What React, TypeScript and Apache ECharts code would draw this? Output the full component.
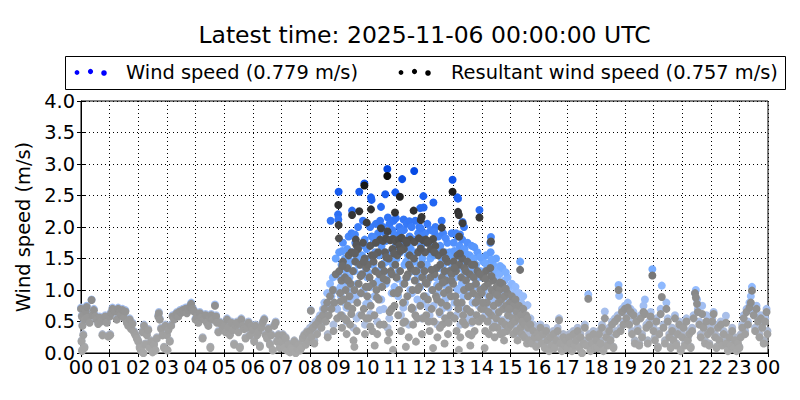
import React, { useEffect, useRef } from "react";
import * as echarts from "echarts";

const titleText = "Latest time: 2025-11-06 00:00:00 UTC";
const windLabel = "Wind speed (0.779 m/s)";
const resultantLabel = "Resultant wind speed (0.757 m/s)";
const yAxisName = "Wind speed (m/s)";

// [hour of day, m/s]
const windNight: number[][] = [
  [0.00,0.72],[0.02,0.20],[0.03,0.60],[0.04,0.05],[0.05,0.45],[0.08,0.30],[0.10,0.62],[0.12,0.10],[0.13,0.55],[0.17,0.68],[0.20,0.75],[0.22,0.58],[0.30,0.50],[0.37,0.85],[0.40,0.62],[0.45,0.70],[0.50,0.60],[0.55,0.55],[0.60,0.48],[0.65,0.58],[0.70,0.52],[0.75,0.30],[0.80,0.55],[0.85,0.60],[0.90,0.50],[0.95,0.28],
  [1.00,0.60],[1.02,0.30],[1.05,0.65],[1.10,0.72],[1.15,0.70],[1.20,0.68],[1.25,0.55],[1.30,0.72],[1.35,0.66],[1.40,0.62],[1.45,0.70],[1.50,0.58],[1.55,0.68],[1.60,0.50],[1.65,0.45],[1.70,0.55],[1.75,0.40],[1.80,0.48],[1.85,0.35],[1.90,0.30],[1.95,0.25],
  [2.00,0.20],[2.05,0.10],[2.10,0.05],[2.15,0.35],[2.18,0.00],[2.20,0.45],[2.25,0.15],[2.30,0.30],[2.35,0.38],[2.40,0.10],[2.45,0.20],[2.50,0.02],[2.55,0.15],[2.60,0.05],[2.65,0.25],[2.70,0.60],[2.72,0.65],[2.75,0.55],[2.80,0.40],[2.85,0.30],[2.90,0.10],[2.95,0.45],
  [3.00,0.30],[3.02,0.05],[3.05,0.38],[3.10,0.20],[3.15,0.45],[3.20,0.60],[3.25,0.55],[3.30,0.62],[3.35,0.65],[3.40,0.60],[3.45,0.68],[3.50,0.66],[3.55,0.70],[3.60,0.68],[3.65,0.72],[3.70,0.65],[3.75,0.70],[3.80,0.75],[3.85,0.80],[3.90,0.72],[3.95,0.68],
  [4.00,0.55],[4.05,0.60],[4.10,0.50],[4.15,0.65],[4.20,0.58],[4.25,0.25],[4.30,0.55],[4.35,0.62],[4.40,0.50],[4.45,0.45],[4.50,0.58],[4.52,0.10],[4.55,0.62],[4.60,0.55],[4.68,0.77],[4.72,0.60],[4.75,0.50],[4.80,0.35],[4.85,0.50],[4.90,0.48],[4.95,0.40],
  [5.00,0.45],[5.05,0.35],[5.10,0.55],[5.15,0.42],[5.20,0.30],[5.25,0.50],[5.30,0.38],[5.35,0.15],[5.40,0.45],[5.45,0.50],[5.50,0.35],[5.55,0.10],[5.60,0.55],[5.65,0.45],[5.70,0.40],[5.75,0.25],[5.80,0.42],[5.85,0.50],[5.90,0.30],[5.95,0.45],
  [6.00,0.38],[6.05,0.20],[6.10,0.45],[6.15,0.30],[6.20,0.35],[6.25,0.12],[6.30,0.42],[6.35,0.50],[6.40,0.55],[6.45,0.30],[6.50,0.25],[6.55,0.40],[6.60,0.15],[6.65,0.30],[6.70,0.05],[6.75,0.45],[6.80,0.50],[6.85,0.20],[6.90,0.30],[6.95,0.10],
  [7.00,0.20],[7.05,0.30],[7.10,0.10],[7.15,0.25],[7.20,0.05],[7.25,0.15],[7.30,0.02],[7.35,0.10],[7.40,0.05],[7.45,0.20],[7.50,0.00],[7.55,0.08],[7.60,0.15],[7.65,0.05],[7.70,0.10],[7.75,0.25],[7.80,0.30],[7.85,0.15],[7.90,0.35],[7.95,0.20]
];

const windDay: number[][] = [
  [8.00,0.40],[8.03,0.68],[8.05,0.30],[8.10,0.45],[8.15,0.20],[8.20,0.50],[8.25,0.35],[8.30,0.55],[8.35,0.60],[8.40,0.45],[8.45,0.70],[8.50,0.80],[8.55,0.60],[8.60,0.95],[8.62,0.30],[8.65,0.75],[8.70,1.10],[8.72,2.10],[8.75,0.90],[8.80,1.20],[8.82,0.45],[8.85,1.00],[8.90,1.50],[8.95,0.70],[8.98,2.20],[8.99,2.12],
  [9.00,2.56],[9.02,1.60],[9.05,1.20],[9.08,0.90],[9.10,1.40],[9.12,0.60],[9.15,1.75],[9.18,1.10],[9.20,0.80],[9.22,1.50],[9.25,1.30],[9.28,0.50],[9.30,1.65],[9.32,1.00],[9.35,1.85],[9.38,1.20],[9.40,0.70],[9.42,1.45],[9.45,1.90],[9.47,2.26],[9.48,1.00],[9.50,1.60],[9.52,0.40],[9.55,1.30],[9.58,1.75],[9.60,0.90],[9.62,1.50],[9.65,1.10],[9.68,2.00],[9.70,1.40],[9.72,2.56],[9.73,0.60],[9.75,1.70],[9.78,1.25],[9.80,0.95],[9.82,1.55],[9.85,2.10],[9.88,1.00],[9.90,2.69],[9.91,1.80],[9.92,0.45],[9.95,1.35],[9.98,1.65],
  [10.00,1.20],[10.02,1.70],[10.05,0.80],[10.08,1.50],[10.10,2.00],[10.12,1.05],[10.13,2.47],[10.15,2.43],[10.16,1.85],[10.18,0.60],[10.20,1.40],[10.22,1.75],[10.25,0.90],[10.28,1.60],[10.30,2.05],[10.32,1.30],[10.35,0.50],[10.38,1.90],[10.40,1.15],[10.42,1.55],[10.45,2.10],[10.48,2.32],[10.49,0.85],[10.50,1.70],[10.52,1.35],[10.55,2.00],[10.58,0.70],[10.60,1.60],[10.62,1.90],[10.63,2.52],[10.65,1.10],[10.68,1.45],[10.70,2.92],[10.71,0.40],[10.72,2.15],[10.75,1.80],[10.78,2.05],[10.80,1.25],[10.82,1.60],[10.85,0.95],[10.88,1.95],[10.90,1.40],[10.92,2.10],[10.95,1.05],[10.98,2.55],[10.99,1.70],
  [11.00,2.14],[11.02,1.50],[11.05,1.85],[11.08,0.90],[11.10,1.30],[11.12,2.00],[11.15,1.60],[11.18,0.60],[11.20,1.75],[11.22,2.76],[11.25,1.10],[11.27,2.12],[11.28,1.95],[11.30,1.40],[11.32,0.80],[11.35,1.70],[11.38,2.05],[11.40,1.20],[11.42,1.55],[11.45,0.45],[11.47,2.09],[11.48,1.85],[11.50,1.00],[11.52,1.65],[11.55,2.00],[11.58,1.30],[11.60,0.70],[11.62,1.80],[11.64,2.89],[11.65,1.45],[11.68,2.10],[11.70,1.15],[11.72,1.60],[11.75,0.85],[11.78,1.90],[11.80,1.35],[11.82,2.00],[11.85,2.30],[11.86,1.05],[11.88,1.70],[11.90,0.55],[11.92,1.50],[11.95,1.85],[11.96,2.49],[11.97,2.31],[11.98,1.20],
  [12.00,1.60],[12.02,1.90],[12.05,0.90],[12.08,1.40],[12.10,2.05],[12.12,1.15],[12.15,1.75],[12.18,0.60],[12.20,1.50],[12.22,1.95],[12.25,1.00],[12.28,1.30],[12.30,1.80],[12.31,2.39],[12.32,0.75],[12.35,1.55],[12.38,2.00],[12.40,1.20],[12.42,1.65],[12.45,0.45],[12.48,1.85],[12.50,1.35],[12.52,0.95],[12.55,1.70],[12.58,1.10],[12.60,2.10],[12.61,1.50],[12.62,0.70],[12.65,1.90],[12.68,1.25],[12.70,1.60],[12.72,0.85],[12.75,1.45],[12.78,1.05],[12.80,1.75],[12.82,0.50],[12.85,1.30],[12.88,1.60],[12.90,0.90],[12.92,1.20],[12.95,1.90],[12.96,1.55],[12.98,2.75],
  [13.00,1.40],[13.02,1.75],[13.05,0.80],[13.08,1.20],[13.10,1.90],[13.11,1.60],[13.12,0.60],[13.15,2.47],[13.16,1.85],[13.17,2.45],[13.18,1.00],[13.20,1.35],[13.22,1.70],[13.25,0.45],[13.28,1.50],[13.30,1.10],[13.32,1.80],[13.33,2.08],[13.35,0.90],[13.38,2.00],[13.39,1.30],[13.40,1.65],[13.42,0.70],[13.45,1.45],[13.48,1.00],[13.50,1.75],[13.52,1.20],[13.55,0.55],[13.58,1.55],[13.60,0.95],[13.62,1.35],[13.65,1.70],[13.68,0.80],[13.70,1.25],[13.72,1.50],[13.75,0.60],[13.78,1.10],[13.80,1.40],[13.82,0.90],[13.85,1.60],[13.88,1.20],[13.90,0.75],[13.92,2.27],[13.95,1.30],[13.98,1.00],
  [14.00,1.20],[14.02,0.80],[14.05,1.45],[14.08,0.95],[14.10,1.30],[14.12,0.60],[14.15,1.55],[14.18,1.05],[14.20,0.75],[14.22,1.35],[14.25,0.50],[14.28,1.15],[14.30,1.75],[14.31,1.60],[14.32,1.84],[14.33,0.85],[14.35,1.25],[14.38,0.65],[14.40,1.40],[14.42,1.00],[14.45,0.45],[14.48,1.20],[14.50,1.50],[14.51,0.80],[14.52,1.30],[14.55,0.60],[14.58,1.05],[14.60,0.90],[14.62,1.25],[14.65,0.50],[14.68,1.10],[14.70,0.75],[14.72,1.35],[14.75,0.95],[14.78,0.40],[14.80,1.15],[14.82,0.70],[14.85,1.00],[14.88,0.55],[14.90,1.20],[14.92,0.85],[14.95,0.60],[14.98,1.05],
  [15.00,0.90],[15.02,0.60],[15.05,1.10],[15.08,0.75],[15.10,0.45],[15.12,0.95],[15.15,0.65],[15.18,1.05],[15.20,0.50],[15.22,0.85],[15.25,0.30],[15.28,0.70],[15.30,0.95],[15.34,1.45],[15.35,0.55],[15.38,0.80],[15.40,0.40],[15.42,0.65],[15.45,0.90],[15.48,0.35],[15.50,0.60],[15.55,0.75],[15.58,0.25],[15.60,0.76],[15.62,0.50],[15.65,0.30],[15.70,0.55],[15.75,0.20],[15.80,0.45],[15.85,0.35],[15.90,0.15],[15.95,0.40]
];

const windDayExtra: number[][] = [
  [9.07,1.05],[9.13,1.62],[9.27,0.72],[9.33,1.38],[9.44,0.85],[9.57,1.88],[9.63,0.55],[9.77,1.48],[9.87,1.72],[9.96,0.78],
  [10.04,1.28],[10.11,0.62],[10.24,1.82],[10.34,1.12],[10.44,0.68],[10.57,1.42],[10.66,1.78],[10.77,0.55],[10.86,1.52],[10.94,1.88],
  [11.06,1.18],[11.16,1.92],[11.26,0.72],[11.36,1.45],[11.46,1.68],[11.56,0.95],[11.66,1.58],[11.76,1.25],[11.87,1.98],[11.94,0.78],
  [12.04,1.38],[12.14,0.72],[12.24,1.58],[12.34,1.92],[12.44,1.08],[12.54,0.62],[12.64,1.38],[12.74,1.82],[12.84,0.72],[12.94,1.42],
  [13.04,1.62],[13.14,1.02],[13.24,1.88],[13.34,0.72],[13.44,1.58],[13.54,1.32],[13.64,0.48],[13.74,1.68],[13.84,1.05],[13.94,1.52],
  [14.04,1.02],[14.14,1.42],[14.24,0.88],[14.34,1.48],[14.44,0.62],[14.54,1.15],[14.64,1.38],[14.74,0.52],[14.84,1.28],[14.94,0.92]
];

const windEvening: number[][] = [
  [16.00,0.30],[16.05,0.45],[16.10,0.20],[16.15,0.35],[16.20,0.10],[16.25,0.40],[16.30,0.25],[16.35,0.05],[16.40,0.30],[16.45,0.15],[16.50,0.35],[16.55,0.10],[16.60,0.25],[16.65,0.40],[16.70,0.55],[16.75,0.20],[16.80,0.05],[16.85,0.30],[16.90,0.15],[16.95,0.25],
  [17.00,0.10],[17.05,0.30],[17.10,0.20],[17.15,0.05],[17.20,0.35],[17.25,0.15],[17.30,0.25],[17.35,0.40],[17.40,0.10],[17.45,0.30],[17.50,0.00],[17.55,0.20],[17.60,0.45],[17.65,0.15],[17.72,0.93],[17.75,0.30],[17.80,0.05],[17.85,0.20],[17.90,0.35],[17.95,0.10],
  [18.00,0.25],[18.05,0.10],[18.10,0.35],[18.15,0.20],[18.20,0.45],[18.25,0.05],[18.30,0.66],[18.35,0.30],[18.40,0.15],[18.45,0.40],[18.50,0.25],[18.55,0.50],[18.60,0.10],[18.65,0.55],[18.70,0.35],[18.75,0.60],[18.78,1.08],[18.80,0.91],[18.85,0.40],[18.90,0.70],[18.95,0.50],
  [19.00,0.75],[19.05,0.60],[19.10,0.80],[19.15,0.50],[19.20,0.70],[19.25,0.35],[19.30,0.65],[19.35,0.20],[19.40,0.55],[19.45,0.40],[19.50,0.15],[19.55,0.60],[19.60,0.30],[19.65,0.75],[19.70,0.85],[19.75,0.45],[19.80,0.20],[19.85,0.50],[19.90,0.65],[19.96,1.33],
  [20.00,0.40],[20.05,0.25],[20.10,0.55],[20.15,0.10],[20.20,0.35],[20.25,0.70],[20.29,1.07],[20.35,0.45],[20.40,0.20],[20.45,0.80],[20.50,0.55],[20.55,0.30],[20.60,0.10],[20.65,0.40],[20.70,0.25],[20.75,0.60],[20.80,0.15],[20.85,0.35],[20.90,0.50],[20.95,0.05],
  [21.00,0.30],[21.05,0.45],[21.10,0.15],[21.15,0.55],[21.20,0.25],[21.25,0.35],[21.30,0.10],[21.35,0.40],[21.40,0.60],[21.45,0.95],[21.48,1.00],[21.52,0.85],[21.55,0.70],[21.60,0.50],[21.65,0.30],[21.70,0.75],[21.75,0.45],[21.80,0.20],[21.85,0.60],[21.90,0.35],[21.95,0.15],
  [22.00,0.40],[22.05,0.55],[22.10,0.65],[22.15,0.30],[22.20,0.10],[22.25,0.45],[22.30,0.25],[22.35,0.50],[22.40,0.15],[22.45,0.35],[22.53,0.59],[22.55,0.20],[22.60,0.05],[22.65,0.30],[22.70,0.15],[22.75,0.40],[22.80,0.10],[22.85,0.25],[22.90,0.05],[22.95,0.20],
  [23.00,0.10],[23.05,0.30],[23.10,0.45],[23.15,0.60],[23.20,0.35],[23.25,0.70],[23.30,0.50],[23.35,0.80],[23.40,0.90],[23.44,1.05],[23.50,0.65],[23.55,0.40],[23.60,0.75],[23.65,0.55],[23.70,0.30],[23.75,0.60],[23.80,0.45],[23.85,0.20],[23.90,0.55],[23.95,0.70],[23.98,0.35]
];

const resultantNight: number[][] = [
  [0.00,0.70],[0.02,0.18],[0.03,0.58],[0.04,0.03],[0.05,0.43],[0.08,0.28],[0.10,0.60],[0.12,0.08],[0.13,0.53],[0.17,0.66],[0.20,0.73],[0.22,0.56],[0.30,0.48],[0.37,0.84],[0.40,0.60],[0.45,0.68],[0.50,0.58],[0.55,0.53],[0.60,0.46],[0.65,0.56],[0.70,0.50],[0.75,0.28],[0.80,0.53],[0.85,0.58],[0.90,0.48],[0.95,0.26],
  [1.00,0.58],[1.02,0.28],[1.05,0.63],[1.10,0.70],[1.15,0.68],[1.20,0.66],[1.25,0.53],[1.30,0.70],[1.35,0.64],[1.40,0.60],[1.45,0.68],[1.50,0.56],[1.55,0.66],[1.60,0.48],[1.65,0.43],[1.70,0.53],[1.75,0.38],[1.80,0.46],[1.85,0.33],[1.90,0.28],[1.95,0.23],
  [2.00,0.18],[2.05,0.08],[2.10,0.03],[2.15,0.33],[2.18,0.00],[2.20,0.43],[2.25,0.13],[2.30,0.28],[2.35,0.36],[2.40,0.08],[2.45,0.18],[2.50,0.01],[2.55,0.13],[2.60,0.04],[2.65,0.23],[2.70,0.58],[2.72,0.63],[2.75,0.53],[2.80,0.38],[2.85,0.28],[2.90,0.08],[2.95,0.43],
  [3.00,0.28],[3.02,0.04],[3.05,0.36],[3.10,0.18],[3.15,0.43],[3.20,0.58],[3.25,0.53],[3.30,0.60],[3.35,0.63],[3.40,0.58],[3.45,0.66],[3.50,0.64],[3.55,0.68],[3.60,0.66],[3.65,0.70],[3.70,0.63],[3.75,0.68],[3.80,0.73],[3.85,0.78],[3.90,0.70],[3.95,0.66],
  [4.00,0.53],[4.05,0.58],[4.10,0.48],[4.15,0.63],[4.20,0.56],[4.25,0.23],[4.30,0.53],[4.35,0.60],[4.40,0.48],[4.45,0.43],[4.50,0.56],[4.52,0.08],[4.55,0.60],[4.60,0.53],[4.68,0.75],[4.72,0.58],[4.75,0.48],[4.80,0.33],[4.85,0.48],[4.90,0.46],[4.95,0.38],
  [5.00,0.43],[5.05,0.33],[5.10,0.53],[5.15,0.40],[5.20,0.28],[5.25,0.48],[5.30,0.36],[5.35,0.13],[5.40,0.43],[5.45,0.48],[5.50,0.33],[5.55,0.08],[5.60,0.53],[5.65,0.43],[5.70,0.38],[5.75,0.23],[5.80,0.40],[5.85,0.48],[5.90,0.28],[5.95,0.43],
  [6.00,0.36],[6.05,0.18],[6.10,0.43],[6.15,0.28],[6.20,0.33],[6.25,0.10],[6.30,0.40],[6.35,0.48],[6.40,0.53],[6.45,0.28],[6.50,0.23],[6.55,0.38],[6.60,0.13],[6.65,0.28],[6.70,0.04],[6.75,0.43],[6.80,0.48],[6.85,0.18],[6.90,0.28],[6.95,0.08],
  [7.00,0.18],[7.05,0.28],[7.10,0.08],[7.15,0.23],[7.20,0.04],[7.25,0.13],[7.30,0.01],[7.35,0.08],[7.40,0.04],[7.45,0.18],[7.50,0.00],[7.55,0.06],[7.60,0.13],[7.65,0.04],[7.70,0.08],[7.75,0.23],[7.80,0.28],[7.85,0.13],[7.90,0.33],[7.95,0.18]
];

const resultantDay: number[][] = [
  [8.00,0.35],[8.03,0.67],[8.05,0.25],[8.10,0.40],[8.15,0.15],[8.20,0.45],[8.25,0.30],[8.30,0.50],[8.35,0.55],[8.40,0.40],[8.45,0.60],[8.50,0.70],[8.55,0.50],[8.60,0.80],[8.62,0.25],[8.65,0.60],[8.70,0.90],[8.75,0.70],[8.80,1.00],[8.82,0.35],[8.85,0.80],[8.90,1.25],[8.95,0.55],
  [8.99,2.35],[9.00,2.03],[9.01,1.82],[9.47,2.19],[9.60,1.80],[9.62,1.71],[9.72,2.25],[9.90,2.66],[9.98,2.07],
  [9.02,1.30],[9.05,0.95],[9.08,0.60],[9.10,1.15],[9.12,0.40],[9.15,1.45],[9.18,0.85],[9.20,0.55],[9.22,1.20],[9.25,1.00],[9.28,0.30],[9.30,1.35],[9.32,0.75],[9.35,1.55],[9.38,0.90],[9.40,0.45],[9.42,1.10],[9.45,1.60],[9.48,0.70],[9.50,1.30],[9.52,0.20],[9.55,1.00],[9.58,1.45],[9.65,0.80],[9.68,1.65],[9.70,1.10],[9.75,1.40],[9.78,0.95],[9.80,0.60],[9.82,1.25],[9.85,1.75],[9.88,0.70],[9.91,1.50],[9.92,0.30],[9.95,1.05],[9.97,1.35],
  [10.13,2.28],[10.48,1.98],[10.71,1.93],[10.70,2.81],[10.97,2.23],[10.45,1.80],[10.55,1.78],[10.65,1.82],[10.80,1.79],[10.90,1.81],
  [10.00,0.90],[10.02,1.40],[10.05,0.55],[10.08,1.20],[10.10,1.70],[10.12,0.75],[10.15,1.55],[10.18,0.35],[10.20,1.10],[10.22,1.45],[10.25,0.60],[10.28,1.30],[10.30,1.75],[10.32,1.00],[10.35,0.30],[10.38,1.60],[10.40,0.85],[10.42,1.25],[10.50,1.40],[10.52,1.05],[10.58,0.45],[10.60,1.30],[10.62,1.60],[10.68,1.15],[10.72,0.20],[10.75,1.50],[10.78,0.65],[10.82,1.30],[10.85,0.70],[10.88,1.65],[10.92,0.95],[10.95,0.75],[10.98,1.40],
  [11.00,1.77],[11.10,1.80],[11.14,2.48],[11.20,1.83],[11.35,1.78],[11.50,1.80],[11.62,2.26],[11.65,1.76],[11.80,1.82],[11.87,2.11],[11.90,2.16],[11.95,1.79],
  [11.02,1.20],[11.05,1.55],[11.08,0.60],[11.11,1.00],[11.12,1.70],[11.15,1.30],[11.18,0.35],[11.25,0.80],[11.28,1.65],[11.30,1.10],[11.32,0.50],[11.38,1.75],[11.40,0.90],[11.42,1.25],[11.45,0.25],[11.48,1.55],[11.52,1.35],[11.55,0.70],[11.58,1.00],[11.60,0.45],[11.63,1.50],[11.66,1.15],[11.68,0.60],[11.72,1.30],[11.75,0.55],[11.78,1.60],[11.81,1.05],[11.85,0.75],[11.88,1.40],[11.91,0.30],[11.92,1.20],[11.98,0.90],
  [12.05,1.80],[12.15,1.77],[12.30,1.81],[12.60,1.99],[12.98,2.56],
  [12.00,1.30],[12.02,1.60],[12.06,0.60],[12.08,1.10],[12.10,1.75],[12.12,0.85],[12.18,0.35],[12.20,1.20],[12.22,1.65],[12.25,0.70],[12.28,1.00],[12.32,0.50],[12.35,1.25],[12.38,1.70],[12.40,0.90],[12.42,1.35],[12.45,0.25],[12.48,1.55],[12.50,1.05],[12.52,0.65],[12.55,1.40],[12.58,0.80],[12.61,1.20],[12.62,0.45],[12.65,1.60],[12.68,0.95],[12.70,1.30],[12.72,0.55],[12.75,1.15],[12.78,0.75],[12.80,1.45],[12.82,0.30],[12.85,1.00],[12.88,1.30],[12.90,0.60],[12.92,0.90],[12.95,1.25],
  [13.17,2.24],[13.20,2.19],[13.33,2.06],[13.21,1.85],[13.92,2.15],
  [13.00,1.10],[13.02,1.45],[13.05,0.55],[13.08,0.90],[13.10,1.30],[13.12,0.35],[13.15,1.55],[13.18,0.70],[13.22,1.40],[13.25,0.25],[13.28,1.20],[13.30,0.80],[13.32,1.50],[13.35,0.60],[13.38,1.00],[13.40,1.35],[13.42,0.45],[13.45,1.15],[13.48,0.70],[13.50,1.45],[13.52,0.90],[13.55,0.30],[13.58,1.25],[13.60,0.65],[13.62,1.05],[13.65,1.40],[13.68,0.50],[13.70,0.95],[13.72,1.20],[13.75,0.35],[13.78,0.80],[13.80,1.10],[13.82,0.60],[13.85,1.30],[13.88,0.90],[13.90,0.50],[13.95,1.00],[13.98,0.70],
  [14.32,1.77],
  [14.00,0.95],[14.02,0.55],[14.05,1.20],[14.08,0.70],[14.10,1.05],[14.12,0.35],[14.15,1.30],[14.18,0.80],[14.20,0.50],[14.22,1.10],[14.25,0.30],[14.28,0.90],[14.30,1.35],[14.33,0.60],[14.35,1.00],[14.38,0.40],[14.40,1.15],[14.42,0.75],[14.45,0.25],[14.48,0.95],[14.50,0.55],[14.52,1.05],[14.55,0.40],[14.58,0.80],[14.60,0.65],[14.62,1.00],[14.65,0.30],[14.68,0.85],[14.70,0.50],[14.72,1.10],[14.75,0.70],[14.78,0.20],[14.80,0.90],[14.82,0.45],[14.85,0.75],[14.88,0.35],[14.90,0.95],[14.92,0.60],[14.95,0.40],[14.98,0.80],
  [15.34,1.32],
  [15.00,0.70],[15.02,0.45],[15.05,0.90],[15.08,0.55],[15.10,0.30],[15.12,0.75],[15.15,0.50],[15.18,0.85],[15.20,0.35],[15.22,0.65],[15.25,0.20],[15.28,0.55],[15.30,0.75],[15.35,0.40],[15.38,0.60],[15.40,0.30],[15.42,0.50],[15.45,0.70],[15.48,0.25],[15.50,0.45],[15.55,0.60],[15.58,0.15],[15.60,0.55],[15.62,0.40],[15.65,0.20],[15.70,0.45],[15.75,0.15],[15.80,0.35],[15.85,0.25],[15.90,0.10],[15.95,0.30]
];

const resultantDayExtra: number[][] = [
  [9.07,0.82],[9.13,1.38],[9.27,0.52],[9.33,1.15],[9.44,0.62],[9.57,1.58],[9.63,0.35],[9.77,1.22],[9.87,1.45],[9.96,0.55],
  [10.04,1.05],[10.11,0.42],[10.24,1.55],[10.34,0.88],[10.44,0.45],[10.57,1.18],[10.66,1.52],[10.77,0.32],[10.86,1.25],[10.94,1.58],
  [11.06,0.95],[11.16,1.62],[11.26,0.48],[11.36,1.20],[11.46,1.40],[11.56,0.72],[11.66,1.30],[11.76,1.00],[11.87,1.66],[11.94,0.55],
  [12.04,1.12],[12.14,0.50],[12.24,1.32],[12.34,1.60],[12.44,0.85],[12.54,0.40],[12.64,1.12],[12.74,1.50],[12.84,0.48],[12.94,1.15],
  [13.04,1.35],[13.14,0.80],[13.24,1.58],[13.34,0.50],[13.44,1.30],[13.54,1.05],[13.64,0.28],[13.74,1.40],[13.84,0.82],[13.94,1.25],
  [14.04,0.80],[14.14,1.18],[14.24,0.65],[14.34,1.22],[14.44,0.42],[14.54,0.92],[14.64,1.12],[14.74,0.32],[14.84,1.02],[14.94,0.70],
  [9.55,0.10],[10.26,0.12],[10.90,0.05],[11.35,0.10],[11.70,0.18],[12.30,0.08],[12.70,0.15],[13.20,0.05],[13.60,0.12],[14.10,0.08]
];

const resultantEvening: number[][] = [
  [16.00,0.25],[16.05,0.40],[16.10,0.15],[16.15,0.30],[16.20,0.08],[16.25,0.35],[16.30,0.20],[16.35,0.03],[16.40,0.25],[16.45,0.12],[16.50,0.30],[16.55,0.08],[16.60,0.20],[16.65,0.35],[16.70,0.52],[16.75,0.15],[16.80,0.03],[16.85,0.25],[16.90,0.12],[16.95,0.20],
  [17.00,0.08],[17.05,0.25],[17.10,0.15],[17.15,0.03],[17.20,0.30],[17.25,0.12],[17.30,0.20],[17.35,0.35],[17.40,0.08],[17.45,0.25],[17.50,0.00],[17.55,0.15],[17.60,0.40],[17.65,0.12],[17.72,0.86],[17.75,0.25],[17.80,0.03],[17.85,0.15],[17.90,0.30],[17.95,0.08],
  [18.00,0.20],[18.05,0.08],[18.10,0.30],[18.15,0.15],[18.20,0.40],[18.25,0.03],[18.30,0.55],[18.35,0.25],[18.40,0.12],[18.45,0.35],[18.50,0.20],[18.55,0.45],[18.60,0.08],[18.65,0.50],[18.70,0.30],[18.75,0.55],[18.78,1.00],[18.85,0.35],[18.90,0.65],[18.95,0.45],
  [19.00,0.70],[19.05,0.55],[19.10,0.72],[19.15,0.45],[19.20,0.65],[19.25,0.30],[19.30,0.60],[19.35,0.15],[19.40,0.50],[19.45,0.35],[19.50,0.12],[19.55,0.55],[19.60,0.25],[19.65,0.65],[19.70,0.62],[19.75,0.40],[19.80,0.15],[19.85,0.45],[19.90,0.58],[19.96,1.23],
  [20.00,0.35],[20.05,0.20],[20.10,0.50],[20.15,0.08],[20.20,0.30],[20.25,0.62],[20.29,0.89],[20.35,0.40],[20.40,0.15],[20.45,0.70],[20.50,0.50],[20.55,0.25],[20.60,0.08],[20.65,0.35],[20.70,0.20],[20.75,0.55],[20.80,0.12],[20.85,0.30],[20.90,0.45],[20.95,0.03],
  [21.00,0.25],[21.05,0.40],[21.10,0.12],[21.15,0.50],[21.20,0.20],[21.25,0.30],[21.30,0.08],[21.35,0.35],[21.40,0.55],[21.45,0.95],[21.48,0.88],[21.52,0.78],[21.55,0.65],[21.60,0.45],[21.65,0.25],[21.70,0.62],[21.75,0.40],[21.80,0.15],[21.85,0.50],[21.90,0.30],[21.95,0.12],
  [22.00,0.35],[22.05,0.50],[22.10,0.62],[22.15,0.25],[22.20,0.08],[22.25,0.40],[22.30,0.20],[22.35,0.45],[22.40,0.12],[22.45,0.30],[22.53,0.48],[22.55,0.15],[22.60,0.03],[22.65,0.25],[22.70,0.12],[22.75,0.35],[22.80,0.08],[22.85,0.20],[22.90,0.03],[22.95,0.15],
  [23.00,0.08],[23.05,0.25],[23.10,0.40],[23.15,0.55],[23.20,0.30],[23.25,0.65],[23.30,0.45],[23.35,0.72],[23.40,0.80],[23.44,0.99],[23.50,0.60],[23.55,0.35],[23.60,0.70],[23.65,0.50],[23.70,0.25],[23.75,0.55],[23.80,0.40],[23.85,0.15],[23.90,0.50],[23.95,0.65],[23.98,0.30]
];

const windColors = ["#a8a8a8", "#aec0e4", "#94bcff", "#68a4ff", "#3a7cf8", "#1a5ef0", "#0044e0"];
const resultantColors = ["#a8a8a8", "#9a9a9a", "#868686", "#666666", "#424242", "#222222", "#000000"];

const FONT = "DejaVu Sans";
const FS = 19.4;

export default function App() {
  const ref = useRef<HTMLDivElement>(null);
  useEffect(() => {
    if (!ref.current) return;
    const chart = echarts.init(ref.current, null, { renderer: "svg" });
    const gridL = 81, gridR = 768, gridT = 101, gridB = 353;
    const midX = (gridL + gridR) / 2;
    const legY = 72;
    chart.setOption({
      animation: false,
      backgroundColor: "#ffffff",
      textStyle: { fontFamily: FONT },
      grid: {
        left: gridL, right: 800 - gridR, top: gridT, bottom: 400 - gridB,
        show: true, borderColor: "#000", borderWidth: 1, backgroundColor: "transparent"
      },
      visualMap: [
        { type: "continuous", show: false, seriesIndex: 0, dimension: 1, min: 0, max: 3, inRange: { color: windColors } },
        { type: "continuous", show: false, seriesIndex: 1, dimension: 1, min: 0, max: 3, inRange: { color: resultantColors } }
      ],
      xAxis: [
        {
          type: "value", min: 0, max: 24, interval: 1, position: "bottom",
          axisLine: { show: true, lineStyle: { color: "#000", width: 1 } },
          axisTick: { show: true, inside: true, length: 4, lineStyle: { color: "#000" } },
          axisLabel: { color: "#000", fontSize: FS, fontFamily: FONT, margin: 5,
            formatter: (v: number) => String(Math.round(v) % 24).padStart(2, "0") },
          splitLine: { show: true, lineStyle: { color: "#000", type: [1, 3], width: 1 } }
        },
        {
          type: "value", min: 0, max: 24, interval: 1, position: "top",
          axisLine: { show: false },
          axisTick: { show: true, inside: true, length: 4, lineStyle: { color: "#000" } },
          axisLabel: { show: false }, splitLine: { show: false }
        }
      ],
      yAxis: [
        {
          type: "value", min: 0, max: 4, interval: 0.5, position: "left",
          name: yAxisName, nameLocation: "middle", nameGap: 42, nameRotate: 90,
          nameTextStyle: { color: "#000", fontSize: FS, fontFamily: FONT },
          axisLine: { show: true, lineStyle: { color: "#000", width: 1 } },
          axisTick: { show: true, inside: true, length: 4, lineStyle: { color: "#000" } },
          axisLabel: { color: "#000", fontSize: FS, fontFamily: FONT, margin: 6,
            formatter: (v: number) => v.toFixed(1) },
          splitLine: { show: true, lineStyle: { color: "#000", type: [1, 3], width: 1 } }
        },
        {
          type: "value", min: 0, max: 4, interval: 0.5, position: "right",
          axisLine: { show: false },
          axisTick: { show: true, inside: true, length: 4, lineStyle: { color: "#000" } },
          axisLabel: { show: false }, splitLine: { show: false }
        }
      ],
      series: [
        {
          name: windLabel, type: "scatter", xAxisIndex: 0, yAxisIndex: 0,
          symbol: "circle", symbolSize: 8, clip: true,
          itemStyle: { color: "#0000ff", opacity: 1 },
          data: [...windNight, ...windDay, ...windDayExtra, ...windEvening]
        },
        {
          name: resultantLabel, type: "scatter", xAxisIndex: 0, yAxisIndex: 0,
          symbol: "circle", symbolSize: 8, clip: true,
          itemStyle: { color: "#000000", opacity: 1 },
          data: [...resultantNight, ...resultantDay, ...resultantDayExtra, ...resultantEvening]
        }
      ],
      graphic: [
        {
          type: "text", x: midX, y: 35,
          style: { text: titleText, fontSize: 23.5, fontFamily: FONT, fill: "#000", textAlign: "center", textVerticalAlign: "middle" }
        },
        {
          type: "rect", shape: { x: 65.5, y: 56.5, width: 720, height: 33 },
          style: { fill: "#fff", stroke: "#000", lineWidth: 1 }
        },
        { type: "circle", shape: { cx: 77, cy: legY + 0.5, r: 2.4 }, style: { fill: "#0000ff" } },
        { type: "circle", shape: { cx: 90.5, cy: legY - 0.5, r: 2.6 }, style: { fill: "#0000ff" } },
        { type: "circle", shape: { cx: 104, cy: legY + 1, r: 2.8 }, style: { fill: "#0000ff" } },
        {
          type: "text", x: 126, y: legY,
          style: { text: windLabel, fontSize: FS, fontFamily: FONT, fill: "#000", textAlign: "left", textVerticalAlign: "middle" }
        },
        { type: "circle", shape: { cx: 401, cy: legY + 0.5, r: 2.4 }, style: { fill: "#000" } },
        { type: "circle", shape: { cx: 414.5, cy: legY - 0.5, r: 2.6 }, style: { fill: "#000" } },
        { type: "circle", shape: { cx: 428, cy: legY + 1, r: 2.8 }, style: { fill: "#000" } },
        {
          type: "text", x: 451, y: legY,
          style: { text: resultantLabel, fontSize: FS, fontFamily: FONT, fill: "#000", textAlign: "left", textVerticalAlign: "middle" }
        }
      ]
    });
    return () => chart.dispose();
  }, []);
  return (
    <div
      ref={ref}
      style={{ position: "fixed", left: 0, top: 0, width: 800, height: 400, background: "#fff" }}
    />
  );
}
